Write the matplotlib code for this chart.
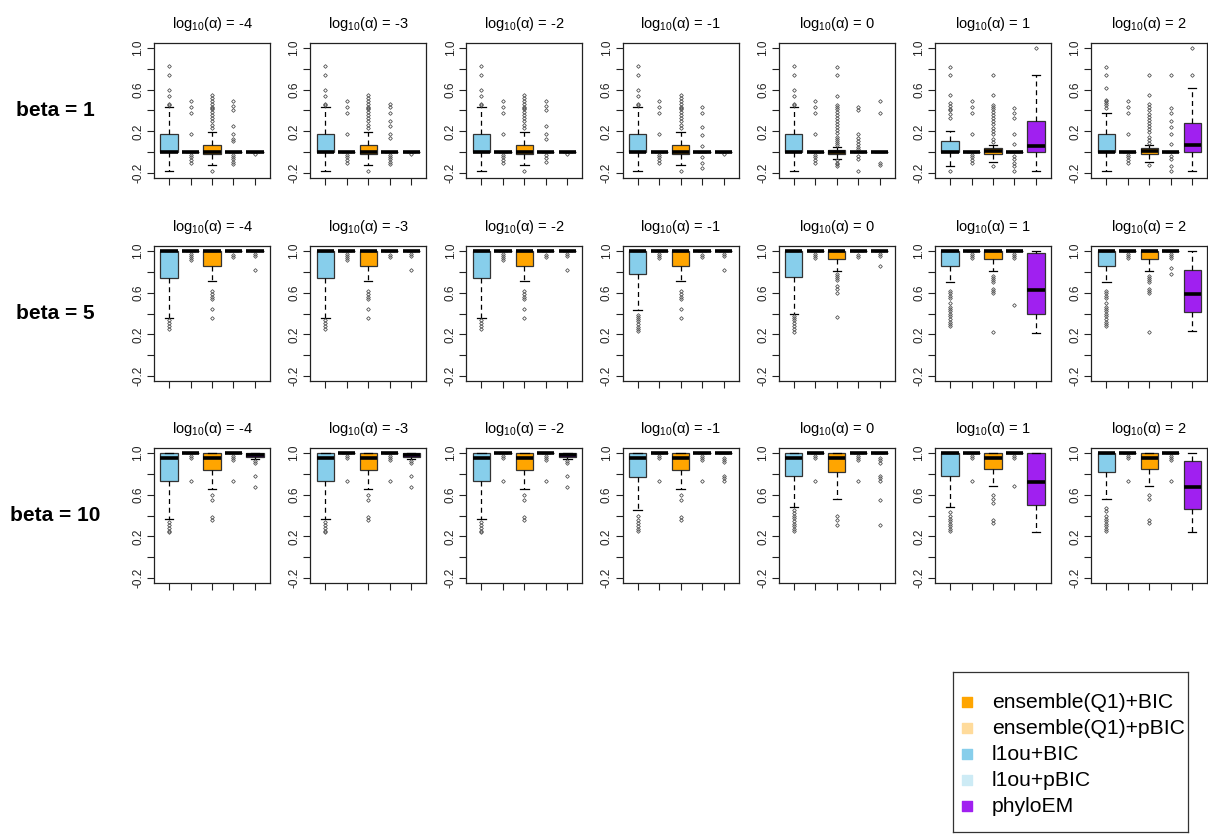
import numpy as np
import matplotlib
matplotlib.use("Agg")
import matplotlib.pyplot as plt

plt.rcParams['font.family'] = ['Liberation Sans', 'DejaVu Sans']
plt.rcParams['mathtext.fontset'] = 'custom'
plt.rcParams['mathtext.rm'] = 'Liberation Sans'
plt.rcParams['mathtext.it'] = 'Liberation Sans:italic'

LOG_ALPHA = [-4, -3, -2, -1, 0, 1, 2]
BETAS = [1, 5, 10]
METHODS = ['l1ou+BIC', 'l1ou+pBIC', 'ensemble(Q1)+BIC', 'ensemble(Q1)+pBIC', 'phyloEM']
COLORS = ['#87CEEB', '#CDEBF5', '#FFA500', '#FFDB9B', '#A020F0']
LEGEND_ORDER = [2, 3, 0, 1, 4]

# each entry: (whislo, q1, median, q3, whishi), one per log10(alpha)
# ---- beta = 1 ----
b1_l1ou_bic = [(-0.18, 0.0, 0.0, 0.17, 0.43)] * 5 + [(-0.13, 0.0, 0.0, 0.11, 0.20), (-0.18, 0.0, 0.0, 0.17, 0.38)]
b1_l1ou_bic_out = [[0.45, 0.46, 0.54, 0.60, 0.74, 0.83]] * 5 + [
    [0.33, 0.37, 0.40, 0.41, 0.44, 0.47, 0.55, 0.74, 0.82, -0.18],
    [0.42, 0.45, 0.47, 0.49, 0.50, 0.62, 0.74, 0.82]]
b1_l1ou_pbic = [(0.0, 0.0, 0.0, 0.0, 0.0)] * 7
b1_l1ou_pbic_out = [[0.49, 0.43, 0.38, 0.17, -0.03, -0.05, -0.08, -0.10]] * 7
b1_ens_bic = [(-0.12, -0.02, 0.0, 0.07, 0.195)] * 4 + [
    (-0.07, -0.02, 0.0, 0.02, 0.05), (-0.09, -0.02, 0.01, 0.04, 0.07), (-0.09, -0.02, 0.01, 0.04, 0.07)]
b1_ens_bic_out = [[0.23, 0.26, 0.30, 0.33, 0.36, 0.39, 0.41, 0.42, 0.43, 0.46, 0.49, 0.52, 0.55, -0.18]] * 4 + [
    [0.07, 0.09, 0.11, 0.13, 0.15, 0.18, 0.21, 0.24, 0.27, 0.30, 0.33, 0.36, 0.39, 0.41, 0.43, 0.45,
     0.54, 0.74, 0.82, -0.08, -0.10, -0.11, -0.13],
    [0.10, 0.13, 0.17, 0.20, 0.23, 0.27, 0.30, 0.33, 0.36, 0.39, 0.41, 0.43, 0.45, 0.55, 0.74, -0.13],
    [0.09, 0.12, 0.15, 0.19, 0.22, 0.25, 0.28, 0.31, 0.34, 0.37, 0.40, 0.43, 0.46, 0.55, 0.74, -0.12]]
b1_ens_pbic = [(0.0, 0.0, 0.0, 0.0, 0.0)] * 7
b1_ens_pbic_out = [
    [0.49, 0.44, 0.40, 0.25, 0.17, 0.13, 0.11, -0.03, -0.05, -0.07, -0.09, -0.11],
    [0.46, 0.43, 0.38, 0.30, 0.25, 0.17, 0.14, -0.03, -0.05, -0.07, -0.09, -0.11],
    [0.49, 0.44, 0.40, 0.25, 0.17, 0.13, -0.03, -0.06, -0.09],
    [0.43, 0.38, 0.24, 0.16, 0.06, -0.05, -0.10, -0.15],
    [0.43, 0.40, 0.17, 0.14, 0.11, 0.08, 0.05, 0.03, -0.04, -0.07, -0.18],
    [0.42, 0.38, 0.33, 0.17, 0.08, -0.04, -0.07, -0.10, -0.13, -0.18],
    [0.74, 0.42, 0.38, 0.30, 0.24, 0.17, 0.08, -0.04, -0.07, -0.13, -0.18]]
b1_phyloem = [(0.0, 0.0, 0.0, 0.0, 0.0)] * 5 + [(-0.18, 0.0, 0.06, 0.30, 0.74), (-0.18, 0.0, 0.07, 0.28, 0.62)]
b1_phyloem_out = [[-0.02]] * 4 + [[0.49, 0.38, -0.10, -0.12], [1.0], [0.74, 1.0]]

# ---- beta = 5 ----
b5_l1ou_bic = [(0.36, 0.745, 1.0, 1.0, 1.0)] * 3 + [
    (0.43, 0.78, 1.0, 1.0, 1.0), (0.40, 0.755, 1.0, 1.0, 1.0),
    (0.70, 0.857, 1.0, 1.0, 1.0), (0.70, 0.857, 1.0, 1.0, 1.0)]
b5_l1ou_bic_out = [[0.34, 0.31, 0.28, 0.25]] * 3 + [
    [0.39, 0.37, 0.35, 0.33, 0.30, 0.27, 0.25, 0.23],
    [0.38, 0.36, 0.34, 0.31, 0.28, 0.25, 0.22]] + [
    [0.62, 0.60, 0.57, 0.55, 0.50, 0.46, 0.44, 0.42, 0.40, 0.38, 0.35, 0.32, 0.30, 0.28]] * 2
b5_l1ou_pbic = [(1.0, 1.0, 1.0, 1.0, 1.0)] * 7
b5_l1ou_pbic_out = [[0.97, 0.95, 0.93, 0.91]] * 3 + [[0.97, 0.95, 0.93]] * 4
b5_ens_bic = [(0.71, 0.857, 1.0, 1.0, 1.0)] * 4 + [(0.81, 0.92, 1.0, 1.0, 1.0)] * 3
b5_ens_bic_out = [[0.62, 0.59, 0.56, 0.54, 0.44, 0.36]] * 4 + [
    [0.78, 0.76, 0.74, 0.72, 0.66, 0.64, 0.60, 0.37]] + [
    [0.76, 0.74, 0.72, 0.70, 0.64, 0.62, 0.60, 0.22]] * 2
b5_ens_pbic = [(1.0, 1.0, 1.0, 1.0, 1.0)] * 7
b5_ens_pbic_out = [[0.96, 0.94]] * 5 + [[0.97, 0.95, 0.93, 0.48], [0.97, 0.95, 0.93, 0.84, 0.78]]
b5_phyloem = [(1.0, 1.0, 1.0, 1.0, 1.0)] * 5 + [(0.21, 0.40, 0.63, 0.98, 1.0), (0.23, 0.41, 0.59, 0.82, 1.0)]
b5_phyloem_out = [[0.97, 0.95, 0.82]] * 4 + [[0.97, 0.95, 0.86], [], []]

# ---- beta = 10 ----
b10_l1ou_bic = [(0.37, 0.735, 0.955, 1.0, 1.0)] * 3 + [
    (0.45, 0.77, 0.955, 1.0, 1.0), (0.48, 0.78, 0.955, 1.0, 1.0),
    (0.48, 0.78, 1.0, 1.0, 1.0), (0.56, 0.82, 1.0, 1.0, 1.0)]
b10_l1ou_bic_out = [[0.34, 0.31, 0.28, 0.25, 0.24]] * 3 + [
    [0.40, 0.36, 0.33, 0.30, 0.27, 0.25],
    [0.45, 0.42, 0.40, 0.38, 0.35, 0.32, 0.30, 0.27, 0.25],
    [0.43, 0.40, 0.37, 0.35, 0.32, 0.30, 0.27, 0.25],
    [0.47, 0.44, 0.40, 0.37, 0.35, 0.32, 0.30, 0.27, 0.25]]
b10_l1ou_pbic = [(1.0, 1.0, 1.0, 1.0, 1.0)] * 7
b10_l1ou_pbic_out = [[0.97, 0.95, 0.73]] * 7
b10_ens_bic = [(0.65, 0.84, 0.955, 1.0, 1.0)] * 4 + [
    (0.56, 0.82, 0.955, 1.0, 1.0), (0.68, 0.845, 0.955, 1.0, 1.0), (0.68, 0.845, 0.955, 1.0, 1.0)]
b10_ens_bic_out = [[0.60, 0.55, 0.39, 0.36]] * 4 + [
    [0.40, 0.36, 0.31], [0.60, 0.56, 0.52, 0.36, 0.33], [0.60, 0.56, 0.36, 0.33]]
b10_ens_pbic = [(1.0, 1.0, 1.0, 1.0, 1.0)] * 7
b10_ens_pbic_out = [[0.97, 0.95, 0.93, 0.73]] * 5 + [[0.97, 0.95, 0.68], [0.97, 0.95, 0.93, 0.73]]
b10_phyloem = [(0.94, 0.96, 0.985, 1.0, 1.0)] * 3 + [(1.0, 1.0, 1.0, 1.0, 1.0)] * 2 + [
    (0.245, 0.50, 0.72, 1.0, 1.0), (0.245, 0.46, 0.67, 0.925, 1.0)]
b10_phyloem_out = [[0.92, 0.90, 0.78, 0.67]] * 3 + [
    [0.95, 0.93, 0.91, 0.78, 0.76, 0.73],
    [0.95, 0.93, 0.90, 0.78, 0.76, 0.73, 0.55, 0.31], [], []]

rows = [
    [(b1_l1ou_bic, b1_l1ou_bic_out), (b1_l1ou_pbic, b1_l1ou_pbic_out), (b1_ens_bic, b1_ens_bic_out),
     (b1_ens_pbic, b1_ens_pbic_out), (b1_phyloem, b1_phyloem_out)],
    [(b5_l1ou_bic, b5_l1ou_bic_out), (b5_l1ou_pbic, b5_l1ou_pbic_out), (b5_ens_bic, b5_ens_bic_out),
     (b5_ens_pbic, b5_ens_pbic_out), (b5_phyloem, b5_phyloem_out)],
    [(b10_l1ou_bic, b10_l1ou_bic_out), (b10_l1ou_pbic, b10_l1ou_pbic_out), (b10_ens_bic, b10_ens_bic_out),
     (b10_ens_pbic, b10_ens_pbic_out), (b10_phyloem, b10_phyloem_out)],
]


def boxStats(five, fliers):
    lo, q1, med, q3, hi = five
    return dict(whislo=lo, q1=q1, med=med, q3=q3, whishi=hi, fliers=np.array(fliers))


def drawPanel(ax, row, col):
    stats = [boxStats(row[m][0][col], row[m][1][col]) for m in range(5)]
    parts = ax.bxp(stats, positions=range(1, 6), widths=0.8, capwidths=0.4,
                   patch_artist=True, showfliers=True,
                   boxprops=dict(edgecolor='#333333', linewidth=0.9),
                   medianprops=dict(color='black', linewidth=2.6, solid_capstyle='butt'),
                   whiskerprops=dict(color='black', linewidth=0.9, linestyle=(0, (4, 3))),
                   capprops=dict(color='black', linewidth=0.9),
                   flierprops=dict(marker='D', markersize=1.9, markerfacecolor='none',
                                   markeredgecolor='#555555', markeredgewidth=0.6))
    for patch, c in zip(parts['boxes'], COLORS):
        patch.set_facecolor(c)

    ax.set_xlim(0.3, 5.7)
    ax.set_ylim(-0.248, 1.048)
    ax.set_xticks(range(1, 6))
    ax.set_xticklabels([''] * 5)
    ax.set_yticks([-0.2, 0.0, 0.2, 0.4, 0.6, 0.8, 1.0])
    ax.set_yticklabels(['-0.2', '', '0.2', '', '0.6', '', '1.0'], rotation=90, va='center')
    ax.tick_params(axis='both', length=5, width=0.8, labelsize=8.5, pad=2, colors='#222222')
    for sp in ax.spines.values():
        sp.set_linewidth(0.9)
        sp.set_color('#222222')
    ax.set_title('log$_{10}$(α) = %d' % LOG_ALPHA[col], fontsize=10.5, pad=11)


W, H = 1208, 835
fig = plt.figure(figsize=(W / 100, H / 100), dpi=100)

panel_left = [154 + 156.2 * c for c in range(7)]
panel_top = [43, 246, 448]
pw, ph = 116, 135

for r in range(3):
    for c in range(7):
        ax = fig.add_axes([panel_left[c] / W, 1 - (panel_top[r] + ph) / H, pw / W, ph / H])
        drawPanel(ax, rows[r], c)
    fig.text(55 / W, 1 - (panel_top[r] + ph / 2) / H, 'beta = %d' % BETAS[r],
             fontsize=15, fontweight='bold', ha='center', va='center')

# legend box drawn in its own pixel-scaled axes
lax = fig.add_axes([953 / W, 1 - 832 / H, 235 / W, 160 / H])
lax.set_xlim(0, 235)
lax.set_ylim(160, 0)
lax.set_xticks([])
lax.set_yticks([])
for sp in lax.spines.values():
    sp.set_linewidth(0.9)
    sp.set_color('#333333')
for i, m in enumerate(LEGEND_ORDER):
    y = 30 + 26 * i
    lax.scatter([14], [y], marker='s', s=55, color=COLORS[m], clip_on=False)
    lax.text(39, y, METHODS[m], fontsize=15.2, va='center', ha='left', clip_on=False)

fig.savefig('out.png', dpi=100)
